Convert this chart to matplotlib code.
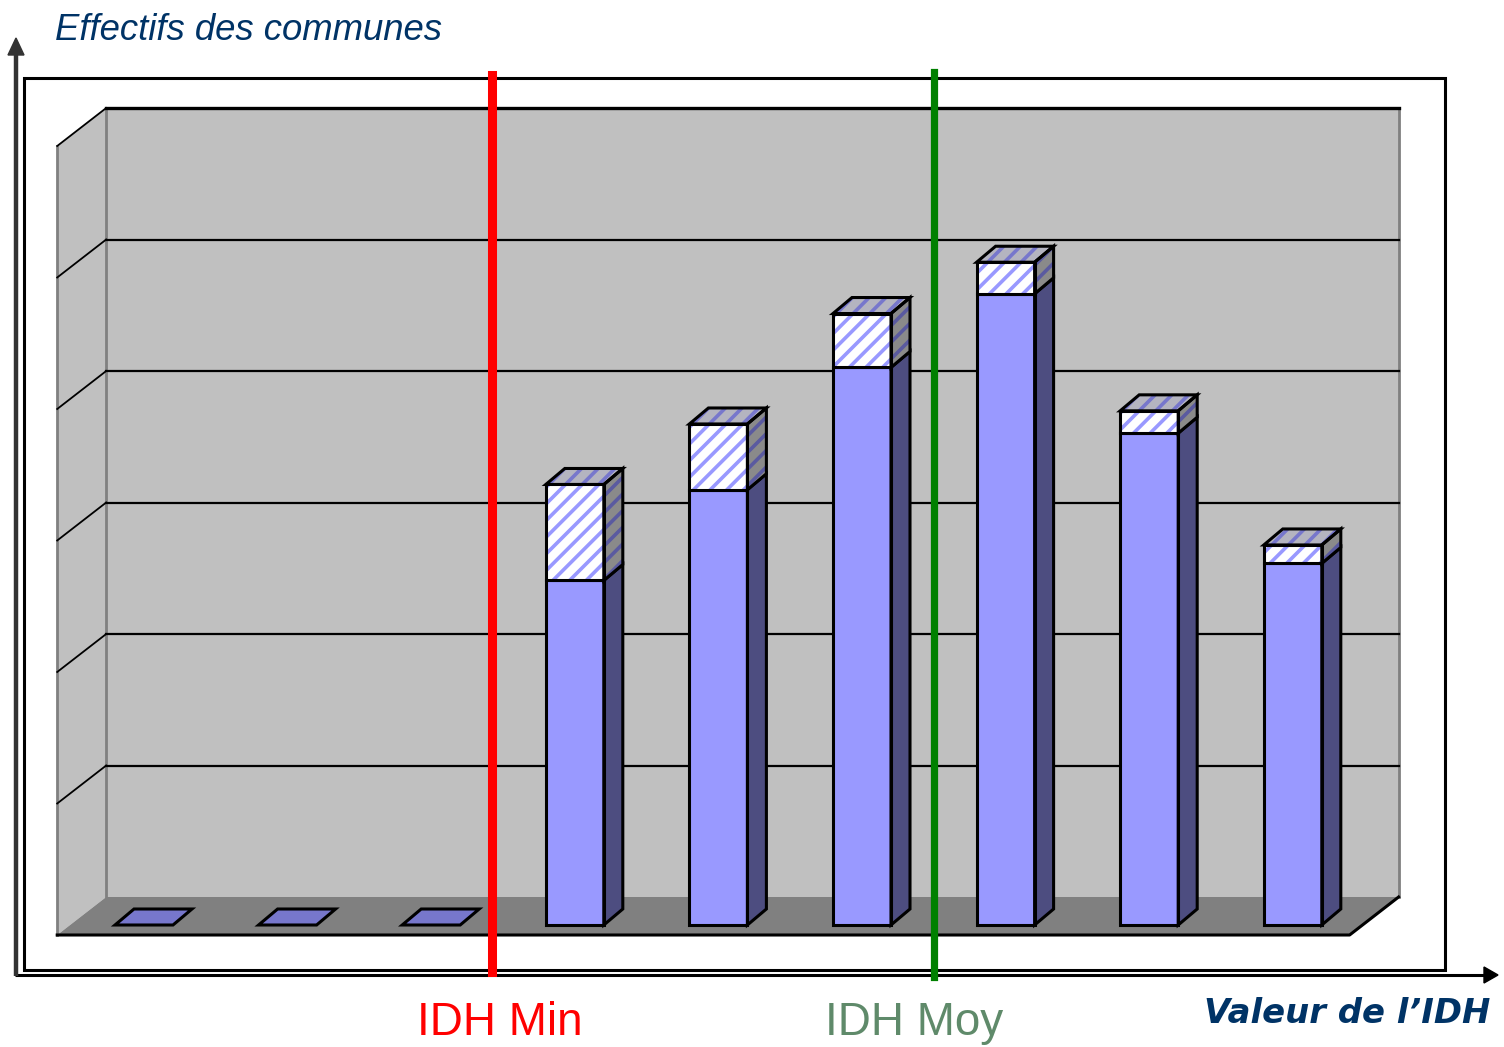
import matplotlib
matplotlib.use("Agg")
import matplotlib.pyplot as plt
from matplotlib.patches import Polygon, Rectangle

plt.rcParams["hatch.linewidth"] = 2.6

# IDH classes (unlabelled on the original), stacked counts in grid units
classes = list(range(9))
solid_vals = [0, 0, 0, 2.62, 3.31, 4.24, 4.80, 3.74, 2.75]
hatch_vals = [0, 0, 0, 0.73, 0.50, 0.41, 0.24, 0.17, 0.14]
grid_levels = [1, 2, 3, 4, 5]
grid_top = 6
idh_min_pos = 2.42
idh_moy_pos = 5.50

W, H = 1504, 1047
SX, SY = 143.6, 131.5          # px per category / per unit
X0, Y0 = 144, 925              # px of category 0 / value 0 on the bar plane

BAR_W = 58 / SX
BAR_D = (19 / SX, 16 / SY)     # bar depth offset
FRONT = (-15 / SX, -10 / SY)   # floor front plane
BACK = (34 / SX, 28 / SY)      # back wall plane

C_FRONT = "#9999ff"
C_SIDE = "#4d4d80"
C_TOP0 = "#7777cc"
C_WALL = "#c0c0c0"
C_FLOOR = "#808080"
NAVY = "#003366"


def sh(pts, o):
    return [(x + o[0], y + o[1]) for x, y in pts]


fig = plt.figure(figsize=(W / 100, H / 100), dpi=100)

# pixel space layer for the frame and the arrows
ax_bg = fig.add_axes([0, 0, 1, 1], zorder=0)
ax_bg.set_xlim(0, W)
ax_bg.set_ylim(H, 0)
ax_bg.axis("off")
ax_bg.add_patch(Rectangle((24, 78), 1421, 892, fill=False, ec="black", lw=2.2))
ax_bg.plot([15, 1488], [975, 975], color="black", lw=2.2, solid_capstyle="butt")
ax_bg.add_patch(Polygon([(1484, 967), (1498, 975), (1484, 983)], color="black"))
ax_bg.plot([16, 16], [976, 52], color="#333333", lw=3.2, solid_capstyle="butt")
ax_bg.add_patch(Polygon([(8, 55), (16, 38), (24, 55)], color="#333333"))

ax_bg.text(55, 40, "Effectifs des communes", fontsize=26.3, style="italic",
           family="Liberation Sans", color=NAVY, ha="left", va="baseline")
ax_bg.text(1490, 1023, "Valeur de l\u2019IDH", fontsize=24.4, style="italic",
           weight="bold", family="DejaVu Sans", color=NAVY,
           ha="right", va="baseline")

# chart layer in category / value units
ax = fig.add_axes([0, 0, 1, 1], zorder=1)
ax.set_xlim(-X0 / SX, (W - X0) / SX)
ax.set_ylim((Y0 - H) / SY, Y0 / SY)
ax.axis("off")
ax.patch.set_alpha(0)

xl, xr = classes[0] - 0.5, classes[-1] + 0.5

# back wall
back = sh([(xl, 0), (xr, 0), (xr, grid_top), (xl, grid_top)], BACK)
ax.add_patch(Polygon(back, fc=C_WALL, ec="none", zorder=1))
# left wall
lw_pts = [sh([(xl, 0)], FRONT)[0], sh([(xl, 0)], BACK)[0],
          sh([(xl, grid_top)], BACK)[0], sh([(xl, grid_top)], FRONT)[0]]
ax.add_patch(Polygon(lw_pts, fc=C_WALL, ec="none", zorder=1))
# floor
floor = [sh([(xl, 0)], FRONT)[0], sh([(xr, 0)], FRONT)[0],
         sh([(xr, 0)], BACK)[0], sh([(xl, 0)], BACK)[0]]
ax.add_patch(Polygon(floor, fc=C_FLOOR, ec="none", zorder=1))

# wall edges
for pts in ([lw_pts[0], lw_pts[3]], [lw_pts[1], lw_pts[2]], [back[1], back[2]]):
    ax.plot(*zip(*pts), color=C_FLOOR, lw=2, zorder=2)
ax.plot([floor[0][0], floor[1][0], floor[2][0]],
        [floor[0][1], floor[1][1], floor[2][1]], color="black", lw=2.2, zorder=2)

# gridlines on back wall and left wall
for k in grid_levels + [grid_top]:
    b0 = sh([(xl, k)], BACK)[0]
    b1 = sh([(xr, k)], BACK)[0]
    f0 = sh([(xl, k)], FRONT)[0]
    lw = 2.4 if k == grid_top else 1.6
    ax.plot([b0[0], b1[0]], [b0[1], b1[1]], color="black", lw=lw, zorder=2)
    ax.plot([f0[0], b0[0]], [f0[1], b0[1]], color="black", lw=1.3, zorder=2)


def face(pts, fc, hatch=None, hc=None, z=5):
    if hatch:
        ax.add_patch(Polygon(pts, fc=fc, ec=hc, lw=0, hatch=hatch, zorder=z))
    else:
        ax.add_patch(Polygon(pts, fc=fc, ec="none", zorder=z))
    ax.add_patch(Polygon(pts, fill=False, ec="black", lw=2.2, zorder=z + 0.1,
                         joinstyle="miter"))


def box_front_side(x0, x1, v0, v1, fc, sc, hatch=None, hfc=None, hsc=None, z=5):
    fr = [(x0, v0), (x1, v0), (x1, v1), (x0, v1)]
    sd = [(x1, v0), sh([(x1, v0)], BAR_D)[0], sh([(x1, v1)], BAR_D)[0], (x1, v1)]
    if hatch:
        face(sd, sc, hatch, hsc, z)
        face(fr, fc, hatch, hfc, z)
    else:
        face(sd, sc, z=z)
        face(fr, fc, z=z)


for i, c in enumerate(classes):
    x0, x1 = c - BAR_W / 2, c + BAR_W / 2
    s, h = solid_vals[i], hatch_vals[i]
    top = s + h
    z = 5 + i
    if top == 0:
        face([(x0, 0), (x1, 0), sh([(x1, 0)], BAR_D)[0], sh([(x0, 0)], BAR_D)[0]],
             C_TOP0, z=z)
        continue
    box_front_side(x0, x1, 0, s, C_FRONT, C_SIDE, z=z)
    box_front_side(x0, x1, s, top, "white", "#8a8a8a", hatch="//",
                   hfc=C_FRONT, hsc="#5a5aa0", z=z + 0.3)
    tp = [(x0, top), (x1, top), sh([(x1, top)], BAR_D)[0], sh([(x0, top)], BAR_D)[0]]
    face(tp, "#b4b4c0", "//", "#7777cc", z=z + 0.3)

# IDH reference lines
ax.axvline(idh_min_pos, ymin=1 - 972 / H, ymax=1 - 75 / H, color="#ff0000",
           lw=6.5, zorder=30)
ax.axvline(idh_moy_pos, ymin=1 - 977 / H, ymax=1 - 72 / H, color="#008000",
           lw=5.2, zorder=30)

ax.text(idh_min_pos + 0.06, (Y0 - 1035) / SY, "IDH Min", fontsize=33,
        family="Liberation Sans", color="#ff0000", ha="center", va="baseline")
ax.text(idh_moy_pos - 0.14, (Y0 - 1035) / SY, "IDH Moy", fontsize=33,
        family="Liberation Sans", color="#5f8a6a", ha="center", va="baseline")

fig.savefig("out.png", dpi=100)
